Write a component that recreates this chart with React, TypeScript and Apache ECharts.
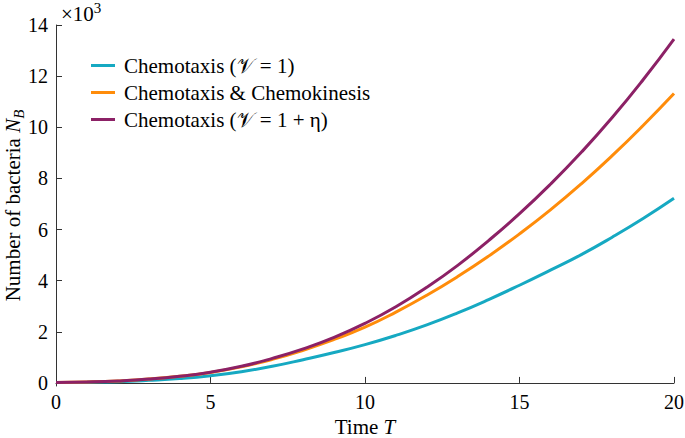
import React, { useEffect, useRef } from "react";
import * as echarts from "echarts";

const times = [0, 1, 2, 3, 4, 5, 6, 7, 8, 9, 10, 11, 12, 13, 14, 15, 16, 17, 18, 19, 20];
const chemotaxis = [0.02, 0.03, 0.05, 0.1, 0.17, 0.28, 0.44, 0.65, 0.91, 1.19, 1.5, 1.86, 2.27, 2.74, 3.26, 3.82, 4.41, 5.02, 5.7, 6.43, 7.22];
const chemoKinesis = [0.02, 0.04, 0.08, 0.15, 0.26, 0.41, 0.63, 0.92, 1.28, 1.7, 2.18, 2.77, 3.43, 4.16, 4.96, 5.83, 6.77, 7.79, 8.89, 10.07, 11.32];
const chemotaxisEta = [0.02, 0.04, 0.08, 0.15, 0.26, 0.42, 0.65, 0.96, 1.33, 1.78, 2.33, 2.98, 3.74, 4.6, 5.57, 6.62, 7.77, 9.02, 10.38, 11.86, 13.45];
const seriesNames = ["Chemotaxis (𝒱 = 1)", "Chemotaxis & Chemokinesis", "Chemotaxis (𝒱 = 1 + η)"];
const seriesColors = ["#16A9C2", "#FF8C0A", "#8C2166"];
const yTicks = [0, 2, 4, 6, 8, 10, 12, 14];

const FONT = "'Liberation Serif', 'Times New Roman', serif";

export default function App() {
  const ref = useRef<HTMLDivElement>(null);
  useEffect(() => {
    if (!ref.current) return;
    const chart = echarts.init(ref.current, null, { renderer: "svg" });
    const values = [chemotaxis, chemoKinesis, chemotaxisEta];
    chart.setOption({
      animation: false,
      backgroundColor: "#ffffff",
      textStyle: { fontFamily: FONT, color: "#000" },
      grid: { left: 56, right: 11, top: 25, bottom: 52, containLabel: false, outerBoundsMode: "none" },
      legend: {
        orient: "vertical",
        left: 91,
        top: 55,
        padding: 0,
        icon: "rect",
        itemWidth: 24,
        itemHeight: 3,
        itemGap: 6,
        data: seriesNames,
        textStyle: { fontFamily: FONT, fontSize: 21, color: "#000", lineHeight: 21, padding: [0, 0, 0, 4] },
      },
      xAxis: {
        type: "value",
        min: 0,
        max: 20,
        interval: 5,
        name: "Time {i|T}",
        nameLocation: "middle",
        nameGap: 30,
        nameMoveOverlap: false,
        nameTextStyle: {
          fontFamily: FONT,
          fontSize: 21,
          color: "#000",
          rich: { i: { fontFamily: FONT, fontSize: 21, fontStyle: "italic", color: "#000" } },
        },
        axisLine: { lineStyle: { color: "#333", width: 1 } },
        axisTick: { inside: true, length: 6, lineStyle: { color: "#333" } },
        axisLabel: { fontFamily: FONT, fontSize: 20, color: "#000", margin: 6 },
        splitLine: { show: false },
      },
      yAxis: {
        type: "value",
        min: -0.12,
        max: 14,
        name: "Number of bacteria {n|N}{b|B}",
        nameLocation: "middle",
        nameGap: 30,
        nameRotate: 90,
        nameMoveOverlap: false,
        nameTextStyle: {
          fontFamily: FONT,
          fontSize: 21,
          color: "#000",
          lineHeight: 26,
          rich: {
            n: { fontFamily: FONT, fontSize: 21, fontStyle: "italic", color: "#000", lineHeight: 26 },
            b: { fontFamily: FONT, fontSize: 15, fontStyle: "italic", color: "#000", verticalAlign: "bottom", lineHeight: 26 },
          },
        },
        axisLine: { show: true, lineStyle: { color: "#333", width: 1 } },
        axisTick: { show: true, inside: true, length: 6, customValues: yTicks, lineStyle: { color: "#333" } },
        axisLabel: { fontFamily: FONT, fontSize: 20, color: "#000", margin: 8, customValues: yTicks },
        splitLine: { show: false },
      },
      graphic: [
        {
          type: "text",
          left: 61,
          top: 0,
          style: {
            text: "{a|×10}{s|3}",
            rich: {
              a: { fontFamily: FONT, fontSize: 21, fill: "#000", verticalAlign: "bottom", lineHeight: 24 },
              s: { fontFamily: FONT, fontSize: 15, fill: "#000", verticalAlign: "top", lineHeight: 24 },
            },
          },
        },
      ],
      series: seriesNames.map((name, k) => ({
        name,
        type: "line",
        showSymbol: false,
        smooth: true,
        color: seriesColors[k],
        lineStyle: { width: 3, color: seriesColors[k] },
        data: times.map((t, i) => [t, values[k][i]]),
      })),
    });
    return () => chart.dispose();
  }, []);
  return <div ref={ref} style={{ position: "absolute", left: 0, top: 0, width: 685, height: 438 }} />;
}
